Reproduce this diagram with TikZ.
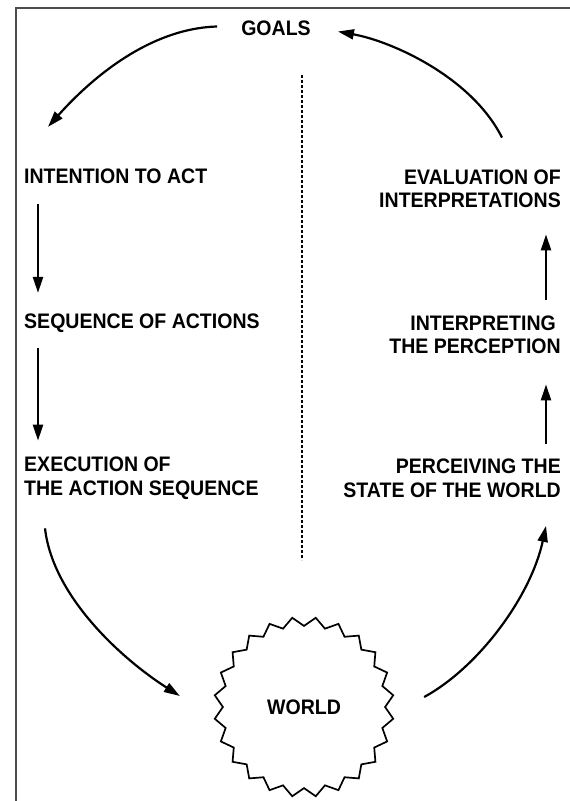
\documentclass[tikz,border=0pt]{standalone}
\usepackage{fontspec}
\setmainfont{Liberation Sans}[FakeStretch=0.93]
\usetikzlibrary{arrows.meta,shapes.geometric}

\begin{document}
\begin{tikzpicture}[x=1pt,y=-1pt,
  stage/.style={inner sep=0pt, font=\fontsize{21}{23.5}\selectfont\bfseries},
  flow/.style={-{Triangle[length=16pt,width=10pt]}, line width=2.2pt},
  frame/.style={draw=black!70, line width=2.5pt}
  ]
  \useasboundingbox (0,0) rectangle (570,801);
  \draw[frame] (16,801) -- (16,8) -- (570,8);

  \node[stage] (goals) at (276,28.5) {GOALS};
  \node[stage, anchor=west] (intention) at (24,176.5) {INTENTION TO ACT};
  \node[stage, anchor=west] (sequence) at (24,323.5) {SEQUENCE OF ACTIONS};
  \node[stage, anchor=west, align=left] (execution) at (24,478)
    {EXECUTION OF\\THE ACTION SEQUENCE};
  \node[stage, anchor=east, align=right] (evaluation) at (561,189)
    {EVALUATION OF\\INTERPRETATIONS};
  \node[stage, anchor=east, align=right] (interpreting) at (561,335)
    {INTERPRETING\hspace*{5pt}\\THE PERCEPTION};
  \node[stage, anchor=east, align=right] (perceiving) at (561,478.5)
    {PERCEIVING THE\\STATE OF THE WORLD};
  \node[stage, draw, star, star points=24, star point ratio=1.11,
    shape border rotate=7.5, minimum size=180pt, line width=1.7pt]
    (world) at (304,707) {WORLD};

  % left column
  \draw[flow] ([xshift=-24pt,yshift=2pt]goals.west)
    .. controls +(-70,2) and +(40,-45) .. ([xshift=24pt,yshift=42pt]intention.north west);
  \draw[flow] ([xshift=14pt,yshift=-20pt]intention.south west)
    -- ([xshift=14pt,yshift=21pt]sequence.north west);
  \draw[flow] ([xshift=14pt,yshift=-15pt]sequence.south west)
    -- ([xshift=14pt,yshift=16pt]execution.north west);
  \draw[flow] ([xshift=21pt,yshift=-29pt]execution.south west)
    .. controls +(8,70) and +(-55,-35) .. ([xshift=-42pt,yshift=11pt]world.west);

  % right column
  \draw[flow] ([xshift=38pt,yshift=10pt]world.east)
    .. controls +(55,-30) and +(-15,70) .. ([xshift=-15pt,yshift=-28pt]perceiving.south east);
  \draw[flow] ([xshift=-15pt,yshift=15pt]perceiving.north east)
    -- ([xshift=-15pt,yshift=-30pt]interpreting.south east);
  \draw[flow] ([xshift=-15pt,yshift=16pt]interpreting.north east)
    -- ([xshift=-15pt,yshift=-26pt]evaluation.south east);
  \draw[flow] ([xshift=-59pt,yshift=32pt]evaluation.north east)
    .. controls +(-30,-60) and +(55,10) .. ([xshift=27pt,yshift=-3pt]goals.east);

  \draw[line width=1.2pt, dash pattern=on 3pt off 2pt] (302,75) -- (302,560);
\end{tikzpicture}
\end{document}
